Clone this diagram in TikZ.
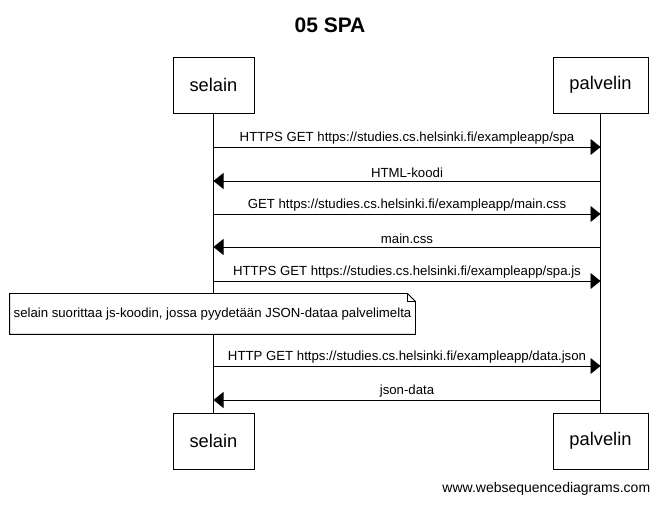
\documentclass[tikz,border=0pt]{standalone}
\usepackage{fontspec}
\setmainfont{Liberation Sans}
\usetikzlibrary{arrows.meta}

\tikzset{
  actor/.style={draw, fill=white, minimum height=56pt, inner sep=0pt, font=\fontsize{18.3}{22}\selectfont},
  msg/.style={-{Triangle[length=10pt,width=16pt]}},
  msglabel/.style={font=\fontsize{13.2}{15}\selectfont, anchor=south, inner sep=2.5pt},
}

\begin{document}
\begin{tikzpicture}[x=1pt,y=-1pt,line width=0.9pt]
\useasboundingbox (0,0) rectangle (662,505);

\node [font=\bfseries\fontsize{21}{25}\selectfont] (title) at (330,25) {05 SPA};

\node [actor, minimum width=81pt] (selain) at (213.5,85) {selain};
\node [actor, minimum width=95pt] (palvelin) at (600.5,85) {palvelin};
\node [actor, minimum width=81pt] (selainb) at (213.5,441) {selain};
\node [actor, minimum width=95pt] (palvelinb) at (600.5,441) {palvelin};

\draw (selain) -- (selainb);
\draw (palvelin) -- (palvelinb);

\draw [msg] (selain |- 0,147) -- (palvelin |- 0,147) node[msglabel, midway]{HTTPS GET https://studies.cs.helsinki.fi/exampleapp/spa};
\draw [msg] (palvelin |- 0,181) -- (selain |- 0,181) node[msglabel, midway]{HTML-koodi};
\draw [msg] (selain |- 0,214) -- (palvelin |- 0,214) node[msglabel, midway]{GET https://studies.cs.helsinki.fi/exampleapp/main.css};
\draw [msg] (palvelin |- 0,247) -- (selain |- 0,247) node[msglabel, midway]{main.css};
\draw [msg] (selain |- 0,281) -- (palvelin |- 0,281) node[msglabel, midway]{HTTPS GET https://studies.cs.helsinki.fi/exampleapp/spa.js};

\node [fill=white, minimum width=405pt, minimum height=40pt, inner sep=0pt, font=\fontsize{13.2}{15}\selectfont] (note) at (212.5,314) {selain suorittaa js-koodin, jossa pyydetään JSON-dataa palvelimelta};
\draw (note.north west) -- ([xshift=-8pt]note.north east) -- ([yshift=-8pt]note.north east) -- (note.south east) -- (note.south west) -- cycle;
\draw ([xshift=-8pt]note.north east) |- ([yshift=-8pt]note.north east);

\draw [msg] (selain |- 0,366) -- (palvelin |- 0,366) node[msglabel, midway]{HTTP GET https://studies.cs.helsinki.fi/exampleapp/data.json};
\draw [msg] (palvelin |- 0,400) -- (selain |- 0,400) node[msglabel, midway]{json-data};

\node [anchor=east, font=\fontsize{14}{16}\selectfont] (footer) at (654,489) {www.websequencediagrams.com};
\end{tikzpicture}
\end{document}
